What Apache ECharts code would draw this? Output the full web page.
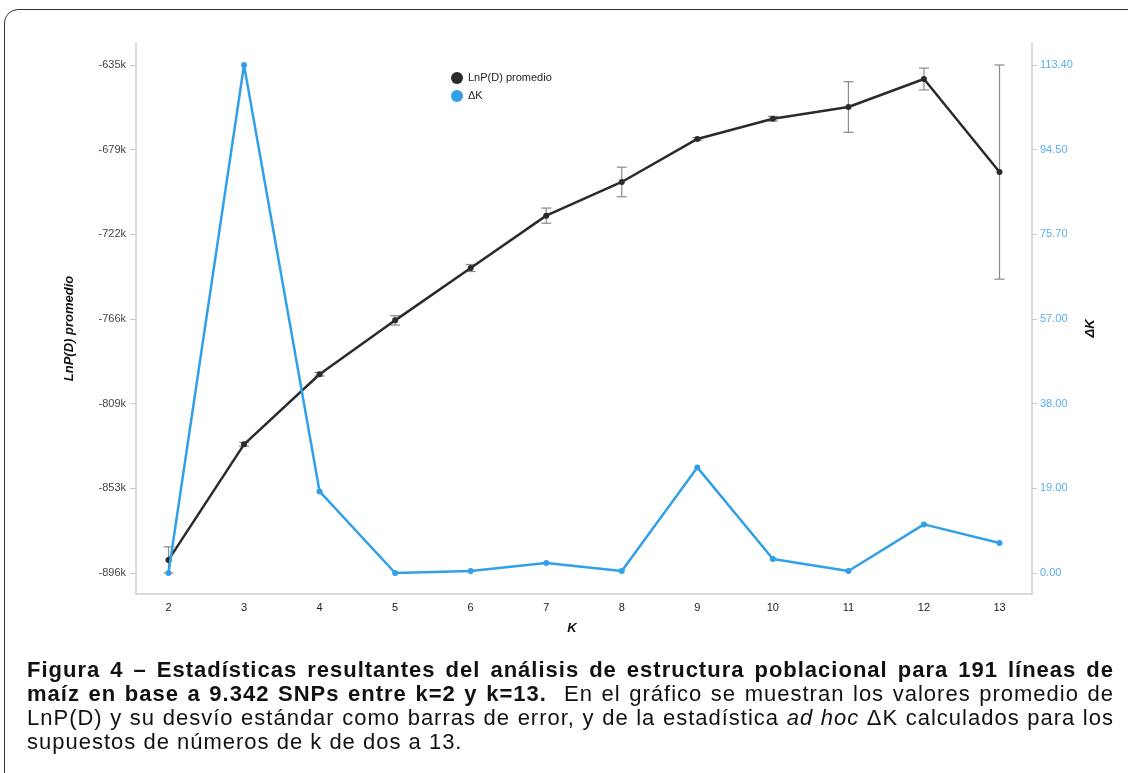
<!DOCTYPE html>
<html>
<head>
<meta charset="utf-8">
<script src="https://cdn.jsdelivr.net/npm/echarts@6/dist/echarts.min.js"></script>
<style>
  html, body { margin: 0; padding: 0; background: #fff; }
  #chart { position: absolute; left: 0; top: 0; width: 1128px; height: 773px; }
  #frame { position: absolute; left: 4px; top: 9px; width: 1160px; height: 800px;
           border: 1.5px solid #333; border-radius: 14px; box-sizing: border-box; pointer-events: none; }
  #caption { position: absolute; left: 27px; top: 658px; width: 1087px;
             font-family: "Liberation Sans", Arial, sans-serif; font-size: 22px; letter-spacing: 1px;
             line-height: 24px; color: #111; }
  #caption .ln { text-align: justify; text-align-last: justify; white-space: normal; }
  #caption .last { text-align: left; text-align-last: left; }
</style>
</head>
<body>
<div id="chart"></div>
<div id="frame"></div>
<div id="caption">
  <div class="ln"><b>Figura 4 – Estadísticas resultantes del análisis de estructura poblacional para 191 líneas de</b></div>
  <div class="ln"><b>maíz en base a 9.342 SNPs entre k=2 y k=13.</b>&nbsp; En el gráfico se muestran los valores promedio de</div>
  <div class="ln">LnP(D) y su desvío estándar como barras de error, y de la estadística <i>ad hoc</i> ΔK calculados para los</div>
  <div class="ln last">supuestos de números de k de dos a 13.</div>
</div>
<script>
// ---- data ----
const kValues = [2, 3, 4, 5, 6, 7, 8, 9, 10, 11, 12, 13];
const lnpMean = [-889300, -829900, -793900, -766200, -739300, -712400, -695100, -673000, -662600, -656600, -642200, -690000];
const lnpSd   = [6700, 1000, 900, 2400, 1800, 3900, 7600, 700, 1200, 13000, 5600, 55000];
const deltaK  = [0, 113.4, 18.2, 0, 0.45, 2.23, 0.45, 23.57, 3.12, 0.45, 10.85, 6.7];

const leftTickValues = [-896000, -852500, -809000, -765500, -722000, -678500, -635000];
const leftTickLabels = ['-896k', '-853k', '-809k', '-766k', '-722k', '-679k', '-635k'];
const rightTickValues = [0, 18.9, 37.8, 56.7, 75.6, 94.5, 113.4];
const rightTickLabels = ['0.00', '19.00', '38.00', '57.00', '75.70', '94.50', '113.40'];

const seriesNames = ['LnP(D) promedio', 'ΔK'];
const axisNames = { x: 'K', left: 'LnP(D) promedio', right: 'ΔK' };

// ---- build ----
const FONT = '"Liberation Sans", Arial, sans-serif';
const BLUE = '#32a0e8';
const DARK = '#2b2b2b';

function labelFor(values, labels) {
  return function (v) {
    for (let i = 0; i < values.length; i++) {
      if (Math.abs(values[i] - v) < 1e-6 * Math.max(1, Math.abs(v))) return labels[i];
    }
    return '';
  };
}

const lnpData = kValues.map((k, i) => [k, lnpMean[i]]);
const dkData = kValues.map((k, i) => [k, deltaK[i]]);
const errData = kValues.map((k, i) => [k, lnpMean[i] - lnpSd[i], lnpMean[i] + lnpSd[i]]);

const chart = echarts.init(document.getElementById('chart'), null, { renderer: 'canvas' });
chart.setOption({
  backgroundColor: '#ffffff',
  animation: false,
  textStyle: { fontFamily: FONT },
  grid: { left: 136, right: 96, top: 43, bottom: 179, containLabel: false },
  legend: {
    left: 451, top: 72, padding: 0, orient: 'vertical', itemWidth: 12, itemHeight: 12, itemGap: 6,
    icon: 'circle', data: seriesNames,
    textStyle: { fontSize: 11, color: '#222', fontFamily: FONT }
  },
  xAxis: {
    type: 'value', min: 1.57, max: 13.43,
    name: axisNames.x, nameLocation: 'middle', nameGap: 28,
    nameTextStyle: { fontSize: 13, fontWeight: 'bold', fontStyle: 'italic', color: '#111', padding: [0, 24, 0, 0] },
    axisLine: { show: true, onZero: false, lineStyle: { color: '#d0d0d0', width: 1.5 } },
    axisTick: { show: false, customValues: kValues },
    axisLabel: { customValues: kValues, fontSize: 11, color: '#222', margin: 8 },
    splitLine: { show: false }
  },
  yAxis: [
    {
      type: 'value', min: -906800, max: -623700, position: 'left',
      name: axisNames.left, nameLocation: 'middle', nameRotate: 90, nameGap: 60,
      nameTextStyle: { fontSize: 13, fontWeight: 'bold', fontStyle: 'italic', color: '#111', padding: [0, 20, 0, 0] },
      axisLine: { show: true, onZero: false, lineStyle: { color: '#d0d0d0', width: 1.5 } },
      axisTick: { show: true, length: 6, customValues: leftTickValues, lineStyle: { color: '#c8c8c8' } },
      axisLabel: { customValues: leftTickValues, formatter: labelFor(leftTickValues, leftTickLabels),
                   fontSize: 11, color: '#444', margin: 10 },
      splitLine: { show: false }
    },
    {
      type: 'value', min: -4.69, max: 118.3, position: 'right',
      name: axisNames.right, nameLocation: 'middle', nameRotate: 90, nameGap: 52,
      nameTextStyle: { fontSize: 13, fontWeight: 'bold', fontStyle: 'italic', color: '#111', padding: [0, 20, 0, 0] },
      axisLine: { show: true, onZero: false, lineStyle: { color: '#d0d0d0', width: 1.5 } },
      axisTick: { show: true, length: 5, customValues: rightTickValues, lineStyle: { color: '#c8c8c8' } },
      axisLabel: { customValues: rightTickValues, formatter: labelFor(rightTickValues, rightTickLabels),
                   fontSize: 11, color: '#5aaef0', margin: 8 },
      splitLine: { show: false }
    }
  ],
  series: [
    {
      type: 'custom', name: 'err', yAxisIndex: 0, z: 1, silent: true,
      data: errData,
      renderItem: function (params, api) {
        const x = api.value(0);
        const lo = api.coord([x, api.value(1)]);
        const hi = api.coord([x, api.value(2)]);
        const cap = 5;
        const st = { stroke: '#8a8a8a', lineWidth: 1.2 };
        return {
          type: 'group',
          children: [
            { type: 'line', shape: { x1: lo[0], y1: lo[1], x2: hi[0], y2: hi[1] }, style: st },
            { type: 'line', shape: { x1: lo[0] - cap, y1: lo[1], x2: lo[0] + cap, y2: lo[1] }, style: st },
            { type: 'line', shape: { x1: hi[0] - cap, y1: hi[1], x2: hi[0] + cap, y2: hi[1] }, style: st }
          ]
        };
      }
    },
    {
      type: 'line', name: seriesNames[0], yAxisIndex: 0, z: 2,
      data: lnpData, symbol: 'circle', symbolSize: 6, showSymbol: true,
      lineStyle: { color: DARK, width: 2.5 }, itemStyle: { color: DARK }
    },
    {
      type: 'line', name: seriesNames[1], yAxisIndex: 1, z: 3,
      data: dkData, symbol: 'circle', symbolSize: 6, showSymbol: true,
      lineStyle: { color: BLUE, width: 2.5 }, itemStyle: { color: BLUE }
    }
  ]
});
</script>
</body>
</html>
